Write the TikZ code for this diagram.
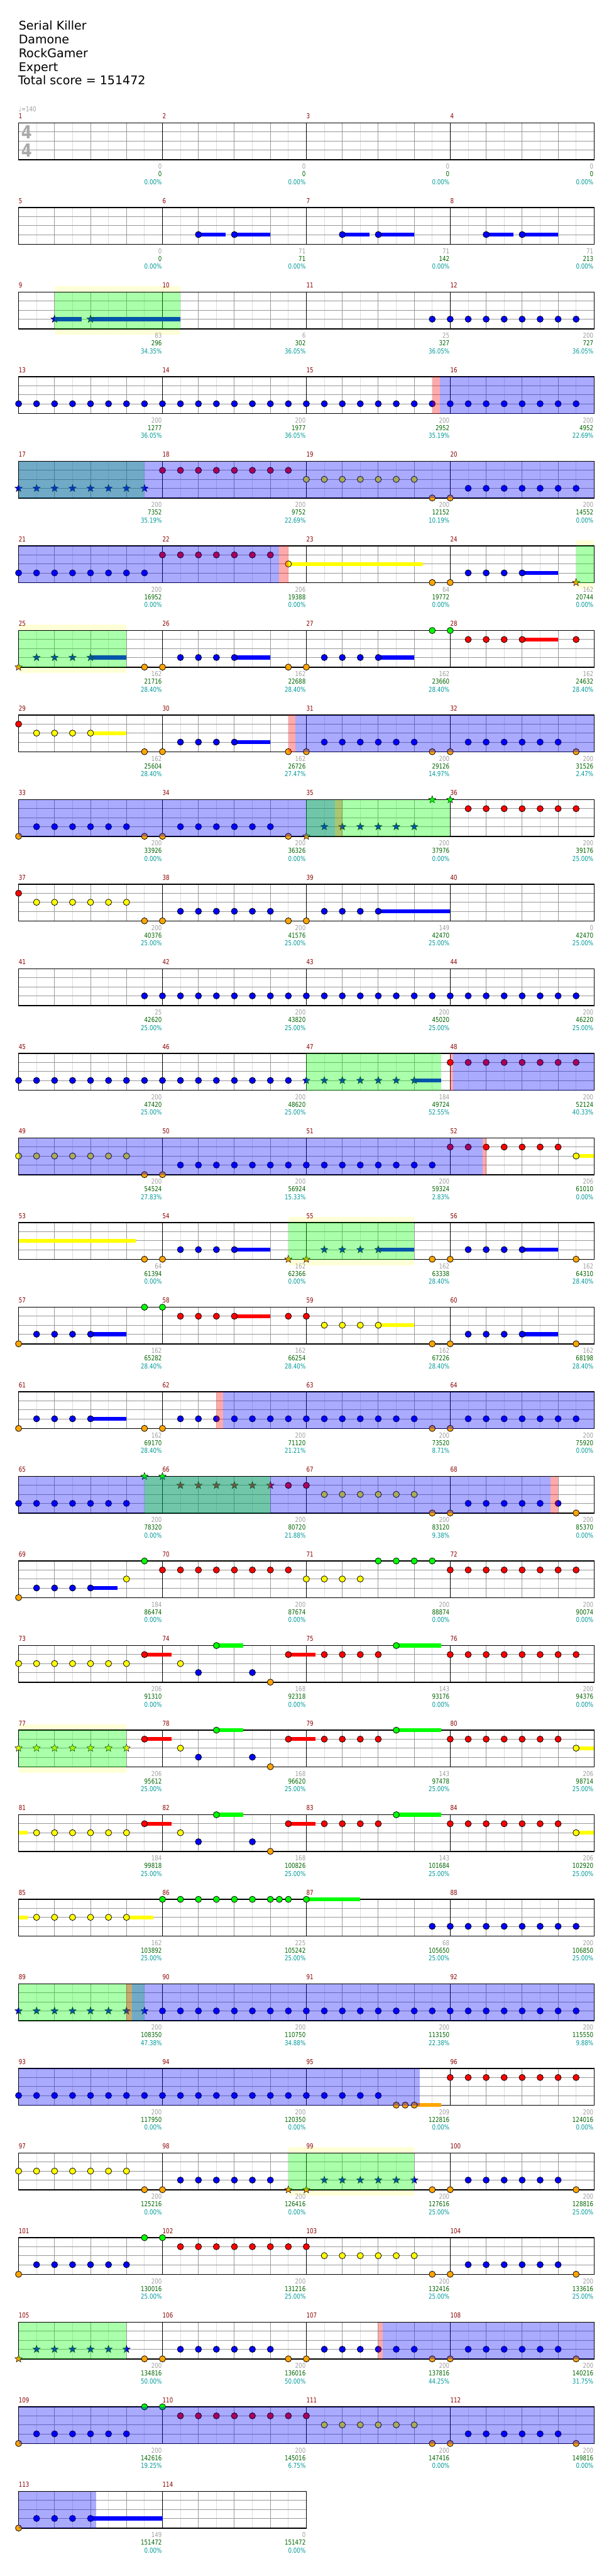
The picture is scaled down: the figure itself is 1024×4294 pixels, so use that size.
\documentclass[tikz,border=0pt]{standalone}
\usepackage{fontspec}
\setmainfont{DejaVu Sans}
\newfontfamily\rblab{DejaVu Sans}[FakeStretch=0.8]
\newfontfamily\rbbig{DejaVu Sans}[FakeStretch=0.85]
\definecolor{nB}{RGB}{0,0,255}
\definecolor{nR}{RGB}{255,0,0}
\definecolor{nY}{RGB}{255,255,0}
\definecolor{nG}{RGB}{0,255,0}
\definecolor{nO}{RGB}{255,165,0}
\definecolor{ovB}{RGB}{0,0,255}
\definecolor{ovG}{RGB}{0,255,0}
\definecolor{ovR}{RGB}{255,0,0}
\definecolor{bandc}{RGB}{255,255,215}
\definecolor{lg}{RGB}{221,221,221}
\definecolor{dg}{RGB}{153,153,153}
\definecolor{cmnum}{RGB}{139,0,0}
\definecolor{cgray}{RGB}{160,160,160}
\definecolor{cgreen}{RGB}{0,100,0}
\definecolor{cpct}{RGB}{0,153,153}
\definecolor{tsig}{RGB}{170,170,170}
\tikzset{
 lgrid/.style={draw=lg,line width=1pt},
 dgrid/.style={draw=dg,line width=1pt},
 notec/.style={draw=black,line width=0.8pt},
 starc/.style={draw=black,line width=0.5pt},
 lab/.style={inner sep=0pt,font=\rblab\fontsize{11.4}{12}\selectfont},
 ttl/.style={inner sep=0pt,anchor=base west,font=\fontsize{20}{24}\selectfont}
}
\def\rboffG{0}\def\rboffR{15}\def\rboffY{30}\def\rboffB{45}\def\rboffO{61}
\newcommand\rbxy[2]{%
 \pgfmathtruncatemacro\rbr{(#1-1)/4}%
 \pgfmathtruncatemacro\rbc{#1-1-4*\rbr}%
 \pgfmathsetmacro\rbx{31+240*\rbc+30*(#2)}%
 \pgfmathsetmacro\rby{205+141*\rbr}}
\newcommand\rbN[3]{\expandafter\let\expandafter\rboff\csname rboff#3\endcsname
 \foreach \rbe in {#2}{\rbxy{#1}{\rbe}\draw[notec,fill=n#3] (\rbx,\rby+\rboff) circle[radius=5.2pt];}}
\newcommand\rbS[3]{\expandafter\let\expandafter\rboff\csname rboff#3\endcsname
 \foreach \rbe in {#2}{\rbxy{#1}{\rbe}\draw[starc,fill=n#3,shift={(\rbx,\rby+\rboff)}] (90:6.5pt) -- (126:2.7pt) -- (162:6.5pt) -- (198:2.7pt) -- (234:6.5pt) -- (270:2.7pt) -- (306:6.5pt) -- (342:2.7pt) -- (18:6.5pt) -- (54:2.7pt) -- cycle;}}
\newcommand\rbU[4]{\expandafter\let\expandafter\rboff\csname rboff#4\endcsname
 \rbxy{#1}{#2}\let\rbxa\rbx\rbxy{#1}{#3}%
 \fill[n#4] (\rbxa,\rby+\rboff-3.2) rectangle (\rbx,\rby+\rboff+3.2);}
\newcommand\rbO[4]{\rbxy{#1}{#2}\let\rbxa\rbx\rbxy{#1}{#3}%
 \fill[#4,opacity=0.3333] (\rbxa,\rby) rectangle (\rbx,\rby+61.3);}
\newcommand\rbBand[3]{\rbxy{#1}{#2}\let\rbxa\rbx\rbxy{#1}{#3}%
 \fill[bandc] (\rbxa,\rby-10) rectangle (\rbx,\rby+71);}
\newcommand\rbGrid[2]{%
 \pgfmathsetmacro\gy{205+141*#1}%
 \pgfmathsetmacro\gx{31+240*#2}%
 \pgfmathtruncatemacro\gn{8*#2-1}%
 \fill[white] (31,\gy) rectangle (\gx,\gy+61.3);
 \foreach \k in {1,3,...,\gn} \draw[lgrid] (31+30*\k,\gy) -- ++(0,61.3);
 \foreach \l in {15,30,45} \draw[dgrid] (31,\gy+\l) -- (\gx,\gy+\l);
 \foreach \k in {2,4,...,\gn} {\pgfmathtruncatemacro\km{mod(\k,8)}%
   \ifnum\km=0 \draw[black,line width=0.9pt] (31+30*\k,\gy) -- ++(0,61.3);\else \draw[dgrid] (31+30*\k,\gy) -- ++(0,61.3);\fi}
 \draw[black,line width=1.3pt] (31,\gy) rectangle (\gx,\gy+61.3);
}
\newcommand\rbL[4]{%
 \rbxy{#1}{0}%
 \node[lab,anchor=base west,text=cmnum] (mn#1) at (\rbx,\rby-7) {#1};
 \node[lab,anchor=base east,text=cgray] (ms#1) at (\rbx+239,\rby+76.5) {#2};
 \node[lab,anchor=base east,text=cgreen] (mc#1) at (\rbx+239,\rby+89.5) {#3};
 \node[lab,anchor=base east,text=cpct] (mp#1) at (\rbx+239,\rby+102.5) {#4\%};}
\begin{document}
\begin{tikzpicture}[x=1pt,y=-1pt]
\useasboundingbox (0,0) rectangle (1024,4294);
\fill[white] (0,0) rectangle (1024,4294);
% title
\node[ttl] (t1) at (31,50) {Serial Killer};
\node[ttl] (t2) at (31,72.5) {Damone};
\node[ttl] (t3) at (31,95.5) {RockGamer};
\node[ttl] (t4) at (31,118.5) {Expert};
\node[ttl] (t5) at (30,141.5) {Total score = 151472};
\node[lab,anchor=base west,text=cgray] (tempo) at (31,186) {♩=140};
% bands
\rbBand{9}{2}{9}
\rbBand{24}{7}{8}
\rbBand{25}{0}{6}
\rbBand{54}{7}{14}
\rbBand{77}{0}{6}
\rbBand{98}{7}{14}
% grids
\foreach \r in {0,...,27} {\rbGrid{\r}{4}}
\rbGrid{28}{2}
\node[inner sep=0pt,text=tsig,font=\rbbig\bfseries\fontsize{30}{30}\selectfont] (ts1) at (44.5,220.5) {4};
\node[inner sep=0pt,text=tsig,font=\rbbig\bfseries\fontsize{30}{30}\selectfont] (ts2) at (44.5,250.5) {4};
% row 1
\rbU{6}{2}{3.5}{B}\rbU{6}{4}{6}{B}\rbN{6}{2,4}{B}
\rbU{7}{2}{3.5}{B}\rbU{7}{4}{6}{B}\rbN{7}{2,4}{B}
\rbU{8}{2}{3.5}{B}\rbU{8}{4}{6}{B}\rbN{8}{2,4}{B}
% row 2
\rbU{9}{2}{3.5}{B}\rbU{9}{4}{9}{B}\rbS{9}{2,4}{B}
\rbN{11}{7}{B}\rbN{12}{0,...,7}{B}
\rbO{9}{2}{9}{ovG}
% row 3
\rbN{13}{0,...,7}{B}\rbN{14}{0,...,7}{B}\rbN{15}{0,...,7}{B}\rbN{16}{0,...,7}{B}
\rbO{15}{7}{7.42}{ovR}\rbO{15}{7.42}{16}{ovB}
% row 4
\rbS{17}{0,...,7}{B}\rbN{18}{0,...,7}{R}\rbN{19}{0,...,6}{Y}\rbN{19}{7}{O}\rbN{20}{0}{O}\rbN{20}{1,...,7}{B}
\rbO{17}{0}{7}{ovG}\rbO{17}{0}{32}{ovB}
% row 5
\rbN{21}{0,...,7}{B}\rbN{22}{0,...,6}{R}\rbU{22}{7}{14.5}{Y}\rbN{22}{7}{Y}\rbN{23}{7}{O}
\rbN{24}{0}{O}\rbU{24}{4}{6}{B}\rbN{24}{1,...,4}{B}\rbS{24}{7}{O}
\rbO{21}{0}{14.49}{ovB}\rbO{22}{6.49}{7}{ovR}\rbO{24}{7}{8}{ovG}
% row 6
\rbS{25}{0}{O}\rbU{25}{4}{6}{B}\rbS{25}{1,...,4}{B}\rbN{25}{7}{O}
\rbN{26}{0}{O}\rbU{26}{4}{6}{B}\rbN{26}{1,...,4}{B}\rbN{26}{7}{O}
\rbN{27}{0}{O}\rbU{27}{4}{6}{B}\rbN{27}{1,...,4}{B}\rbN{27}{7}{G}
\rbN{28}{0}{G}\rbU{28}{4}{6}{R}\rbN{28}{1,...,4}{R}\rbN{28}{7}{R}
\rbO{25}{0}{6}{ovG}
% row 7
\rbN{29}{0}{R}\rbU{29}{4}{6}{Y}\rbN{29}{1,...,4}{Y}\rbN{29}{7}{O}
\rbN{30}{0}{O}\rbU{30}{4}{6}{B}\rbN{30}{1,...,4}{B}\rbN{30}{7}{O}
\rbN{31}{0,7}{O}\rbN{31}{1,...,6}{B}\rbN{32}{0,7}{O}\rbN{32}{1,...,6}{B}
\rbO{30}{7}{7.4}{ovR}\rbO{30}{7.4}{24}{ovB}
% row 8
\rbN{33}{0,7}{O}\rbN{33}{1,...,6}{B}\rbN{34}{0,7}{O}\rbN{34}{1,...,6}{B}
\rbS{35}{0}{O}\rbS{35}{1,...,6}{B}\rbS{35}{7}{G}\rbS{36}{0}{G}\rbN{36}{1,...,7}{R}
\rbO{33}{0}{17.58}{ovB}\rbO{35}{1.58}{2}{ovR}\rbO{35}{0}{8}{ovG}
% row 9
\rbN{37}{0}{R}\rbN{37}{1,...,6}{Y}\rbN{37}{7}{O}\rbN{38}{0,7}{O}\rbN{38}{1,...,6}{B}
\rbN{39}{0}{O}\rbU{39}{4}{8}{B}\rbN{39}{1,...,4}{B}
% row 10
\rbN{41}{7}{B}\rbN{42}{0,...,7}{B}\rbN{43}{0,...,7}{B}\rbN{44}{0,...,7}{B}
% row 11
\rbN{45}{0,...,7}{B}\rbN{46}{0,...,7}{B}\rbU{47}{6}{7.5}{B}\rbS{47}{0,...,6}{B}\rbN{48}{0,...,7}{R}
\rbO{47}{0}{7.5}{ovG}\rbO{48}{0}{0.17}{ovR}\rbO{48}{0.17}{8}{ovB}
% row 12
\rbN{49}{0,...,6}{Y}\rbN{49}{7}{O}\rbN{50}{0}{O}\rbN{50}{1,...,7}{B}\rbN{51}{0,...,7}{B}
\rbN{52}{0,...,6}{R}\rbU{52}{7}{8}{Y}\rbN{52}{7}{Y}
\rbO{49}{0}{25.8}{ovB}\rbO{52}{1.8}{2}{ovR}
% row 13
\rbU{53}{0}{6.5}{Y}\rbN{53}{7}{O}\rbN{54}{0}{O}\rbU{54}{4}{6}{B}\rbN{54}{1,...,4}{B}\rbS{54}{7}{O}
\rbS{55}{0}{O}\rbU{55}{4}{6}{B}\rbS{55}{1,...,4}{B}\rbN{55}{7}{O}
\rbN{56}{0}{O}\rbU{56}{4}{6}{B}\rbN{56}{1,...,4}{B}\rbN{56}{7}{O}
\rbO{54}{7}{14}{ovG}
% row 14
\rbN{57}{0}{O}\rbU{57}{4}{6}{B}\rbN{57}{1,...,4}{B}\rbN{57}{7}{G}
\rbN{58}{0}{G}\rbU{58}{4}{6}{R}\rbN{58}{1,...,4}{R}\rbN{58}{7}{R}
\rbN{59}{0}{R}\rbU{59}{4}{6}{Y}\rbN{59}{1,...,4}{Y}\rbN{59}{7}{O}
\rbN{60}{0}{O}\rbU{60}{4}{6}{B}\rbN{60}{1,...,4}{B}\rbN{60}{7}{O}
% row 15
\rbN{61}{0}{O}\rbU{61}{4}{6}{B}\rbN{61}{1,...,4}{B}\rbN{61}{7}{O}
\rbN{62}{0}{O}\rbN{62}{1,...,7}{B}\rbN{63}{0,...,6}{B}\rbN{63}{7}{O}\rbN{64}{0}{O}\rbN{64}{1,...,7}{B}
\rbO{62}{3}{3.37}{ovR}\rbO{62}{3.37}{24}{ovB}
% row 16
\rbN{65}{0,...,6}{B}\rbS{65}{7}{G}\rbS{66}{0}{G}\rbS{66}{1,...,6}{R}\rbN{66}{7}{R}\rbN{67}{0}{R}
\rbN{67}{1,...,6}{Y}\rbN{67}{7}{O}\rbN{68}{0,7}{O}\rbN{68}{1,...,6}{B}
\rbO{65}{0}{29.57}{ovB}\rbO{68}{5.57}{6}{ovR}\rbO{65}{7}{14}{ovG}
% row 17
\rbN{69}{0}{O}\rbU{69}{4}{5.5}{B}\rbN{69}{1,...,4}{B}\rbN{69}{6}{Y}\rbN{69}{7}{G}
\rbN{70}{0,...,7}{R}\rbN{71}{0,...,3}{Y}\rbN{71}{4,...,7}{G}\rbN{72}{0,...,7}{R}
% row 18
\rbN{73}{0,...,6}{Y}\rbU{73}{7}{8.5}{R}\rbN{73}{7}{R}
\rbN{74}{1}{Y}\rbN{74}{2,5}{B}\rbU{74}{3}{4.5}{G}\rbN{74}{3}{G}\rbN{74}{6}{O}\rbU{74}{7}{8.5}{R}\rbN{74}{7}{R}
\rbN{75}{1,...,4}{R}\rbU{75}{5}{7.5}{G}\rbN{75}{5}{G}
\rbN{76}{0,...,7}{R}
% row 19
\rbS{77}{0,...,6}{Y}\rbU{77}{7}{8.5}{R}\rbN{77}{7}{R}
\rbN{78}{1}{Y}\rbN{78}{2,5}{B}\rbU{78}{3}{4.5}{G}\rbN{78}{3}{G}\rbN{78}{6}{O}\rbU{78}{7}{8.5}{R}\rbN{78}{7}{R}
\rbN{79}{1,...,4}{R}\rbU{79}{5}{7.5}{G}\rbN{79}{5}{G}
\rbN{80}{0,...,6}{R}\rbU{80}{7}{8}{Y}\rbN{80}{7}{Y}
\rbO{77}{0}{6}{ovG}
% row 20
\rbU{81}{0}{0.5}{Y}\rbN{81}{1,...,6}{Y}\rbU{81}{7}{8.5}{R}\rbN{81}{7}{R}
\rbN{82}{1}{Y}\rbN{82}{2,5}{B}\rbU{82}{3}{4.5}{G}\rbN{82}{3}{G}\rbN{82}{6}{O}\rbU{82}{7}{8.5}{R}\rbN{82}{7}{R}
\rbN{83}{1,...,4}{R}\rbU{83}{5}{7.5}{G}\rbN{83}{5}{G}
\rbN{84}{0,...,6}{R}\rbU{84}{7}{8}{Y}\rbN{84}{7}{Y}
% row 21
\rbU{85}{0}{0.5}{Y}\rbU{85}{6}{7.5}{Y}\rbN{85}{1,...,6}{Y}
\rbN{86}{0,1,2,3,4,5,6,6.5,7}{G}\rbU{87}{0}{3}{G}\rbN{87}{0}{G}\rbN{87}{7}{B}\rbN{88}{0,...,7}{B}
% row 22
\rbS{89}{0,...,7}{B}\rbN{90}{0,...,7}{B}\rbN{91}{0,...,7}{B}\rbN{92}{0,...,7}{B}
\rbO{89}{0}{7.02}{ovG}\rbO{89}{6}{6.3}{ovR}\rbO{89}{6.3}{32}{ovB}
% row 23
\rbN{93}{0,...,7}{B}\rbN{94}{0,...,7}{B}\rbN{95}{0,...,4}{B}\rbU{95}{6}{7.5}{O}\rbN{95}{5,5.5,6}{O}\rbN{96}{0,...,7}{R}
\rbO{93}{0}{22.3}{ovB}
% row 24
\rbN{97}{0,...,6}{Y}\rbN{97}{7}{O}\rbN{98}{0}{O}\rbN{98}{1,...,6}{B}\rbS{98}{7}{O}
\rbS{99}{0}{O}\rbS{99}{1,...,6}{B}\rbN{99}{7}{O}\rbN{100}{0,7}{O}\rbN{100}{1,...,6}{B}
\rbO{98}{7}{14}{ovG}
% row 25
\rbN{101}{0}{O}\rbN{101}{1,...,6}{B}\rbN{101}{7}{G}\rbN{102}{0}{G}\rbN{102}{1,...,7}{R}
\rbN{103}{0}{R}\rbN{103}{1,...,6}{Y}\rbN{103}{7}{O}\rbN{104}{0,7}{O}\rbN{104}{1,...,6}{B}
% row 26
\rbS{105}{0}{O}\rbS{105}{1,...,6}{B}\rbN{105}{7}{O}\rbN{106}{0,7}{O}\rbN{106}{1,...,6}{B}
\rbN{107}{0,7}{O}\rbN{107}{1,...,6}{B}\rbN{108}{0,7}{O}\rbN{108}{1,...,6}{B}
\rbO{105}{0}{6}{ovG}\rbO{107}{4}{4.26}{ovR}\rbO{107}{4.26}{16}{ovB}
% row 27
\rbN{109}{0}{O}\rbN{109}{1,...,6}{B}\rbN{109}{7}{G}\rbN{110}{0}{G}\rbN{110}{1,...,7}{R}
\rbN{111}{0}{R}\rbN{111}{1,...,6}{Y}\rbN{111}{7}{O}\rbN{112}{0,7}{O}\rbN{112}{1,...,6}{B}
\rbO{109}{0}{32}{ovB}
% row 28
\rbN{113}{0}{O}\rbU{113}{4}{8}{B}\rbN{113}{1,...,4}{B}
\rbO{113}{0}{4.3}{ovB}
% labels
\rbL{1}{0}{0}{0.00}\rbL{2}{0}{0}{0.00}\rbL{3}{0}{0}{0.00}\rbL{4}{0}{0}{0.00}
\rbL{5}{0}{0}{0.00}\rbL{6}{71}{71}{0.00}\rbL{7}{71}{142}{0.00}\rbL{8}{71}{213}{0.00}
\rbL{9}{83}{296}{34.35}\rbL{10}{6}{302}{36.05}\rbL{11}{25}{327}{36.05}\rbL{12}{200}{727}{36.05}
\rbL{13}{200}{1277}{36.05}\rbL{14}{200}{1977}{36.05}\rbL{15}{200}{2952}{35.19}\rbL{16}{200}{4952}{22.69}
\rbL{17}{200}{7352}{35.19}\rbL{18}{200}{9752}{22.69}\rbL{19}{200}{12152}{10.19}\rbL{20}{200}{14552}{0.00}
\rbL{21}{200}{16952}{0.00}\rbL{22}{206}{19388}{0.00}\rbL{23}{64}{19772}{0.00}\rbL{24}{162}{20744}{0.00}
\rbL{25}{162}{21716}{28.40}\rbL{26}{162}{22688}{28.40}\rbL{27}{162}{23660}{28.40}\rbL{28}{162}{24632}{28.40}
\rbL{29}{162}{25604}{28.40}\rbL{30}{162}{26726}{27.47}\rbL{31}{200}{29126}{14.97}\rbL{32}{200}{31526}{2.47}
\rbL{33}{200}{33926}{0.00}\rbL{34}{200}{36326}{0.00}\rbL{35}{200}{37976}{0.00}\rbL{36}{200}{39176}{25.00}
\rbL{37}{200}{40376}{25.00}\rbL{38}{200}{41576}{25.00}\rbL{39}{149}{42470}{25.00}\rbL{40}{0}{42470}{25.00}
\rbL{41}{25}{42620}{25.00}\rbL{42}{200}{43820}{25.00}\rbL{43}{200}{45020}{25.00}\rbL{44}{200}{46220}{25.00}
\rbL{45}{200}{47420}{25.00}\rbL{46}{200}{48620}{25.00}\rbL{47}{184}{49724}{52.55}\rbL{48}{200}{52124}{40.33}
\rbL{49}{200}{54524}{27.83}\rbL{50}{200}{56924}{15.33}\rbL{51}{200}{59324}{2.83}\rbL{52}{206}{61010}{0.00}
\rbL{53}{64}{61394}{0.00}\rbL{54}{162}{62366}{0.00}\rbL{55}{162}{63338}{28.40}\rbL{56}{162}{64310}{28.40}
\rbL{57}{162}{65282}{28.40}\rbL{58}{162}{66254}{28.40}\rbL{59}{162}{67226}{28.40}\rbL{60}{162}{68198}{28.40}
\rbL{61}{162}{69170}{28.40}\rbL{62}{200}{71120}{21.21}\rbL{63}{200}{73520}{8.71}\rbL{64}{200}{75920}{0.00}
\rbL{65}{200}{78320}{0.00}\rbL{66}{200}{80720}{21.88}\rbL{67}{200}{83120}{9.38}\rbL{68}{200}{85370}{0.00}
\rbL{69}{184}{86474}{0.00}\rbL{70}{200}{87674}{0.00}\rbL{71}{200}{88874}{0.00}\rbL{72}{200}{90074}{0.00}
\rbL{73}{206}{91310}{0.00}\rbL{74}{168}{92318}{0.00}\rbL{75}{143}{93176}{0.00}\rbL{76}{200}{94376}{0.00}
\rbL{77}{206}{95612}{25.00}\rbL{78}{168}{96620}{25.00}\rbL{79}{143}{97478}{25.00}\rbL{80}{206}{98714}{25.00}
\rbL{81}{184}{99818}{25.00}\rbL{82}{168}{100826}{25.00}\rbL{83}{143}{101684}{25.00}\rbL{84}{206}{102920}{25.00}
\rbL{85}{162}{103892}{25.00}\rbL{86}{225}{105242}{25.00}\rbL{87}{68}{105650}{25.00}\rbL{88}{200}{106850}{25.00}
\rbL{89}{200}{108350}{47.38}\rbL{90}{200}{110750}{34.88}\rbL{91}{200}{113150}{22.38}\rbL{92}{200}{115550}{9.88}
\rbL{93}{200}{117950}{0.00}\rbL{94}{200}{120350}{0.00}\rbL{95}{209}{122816}{0.00}\rbL{96}{200}{124016}{0.00}
\rbL{97}{200}{125216}{0.00}\rbL{98}{200}{126416}{0.00}\rbL{99}{200}{127616}{25.00}\rbL{100}{200}{128816}{25.00}
\rbL{101}{200}{130016}{25.00}\rbL{102}{200}{131216}{25.00}\rbL{103}{200}{132416}{25.00}\rbL{104}{200}{133616}{25.00}
\rbL{105}{200}{134816}{50.00}\rbL{106}{200}{136016}{50.00}\rbL{107}{200}{137816}{44.25}\rbL{108}{200}{140216}{31.75}
\rbL{109}{200}{142616}{19.25}\rbL{110}{200}{145016}{6.75}\rbL{111}{200}{147416}{0.00}\rbL{112}{200}{149816}{0.00}
\rbL{113}{149}{151472}{0.00}\rbL{114}{0}{151472}{0.00}
\end{tikzpicture}
\end{document}
